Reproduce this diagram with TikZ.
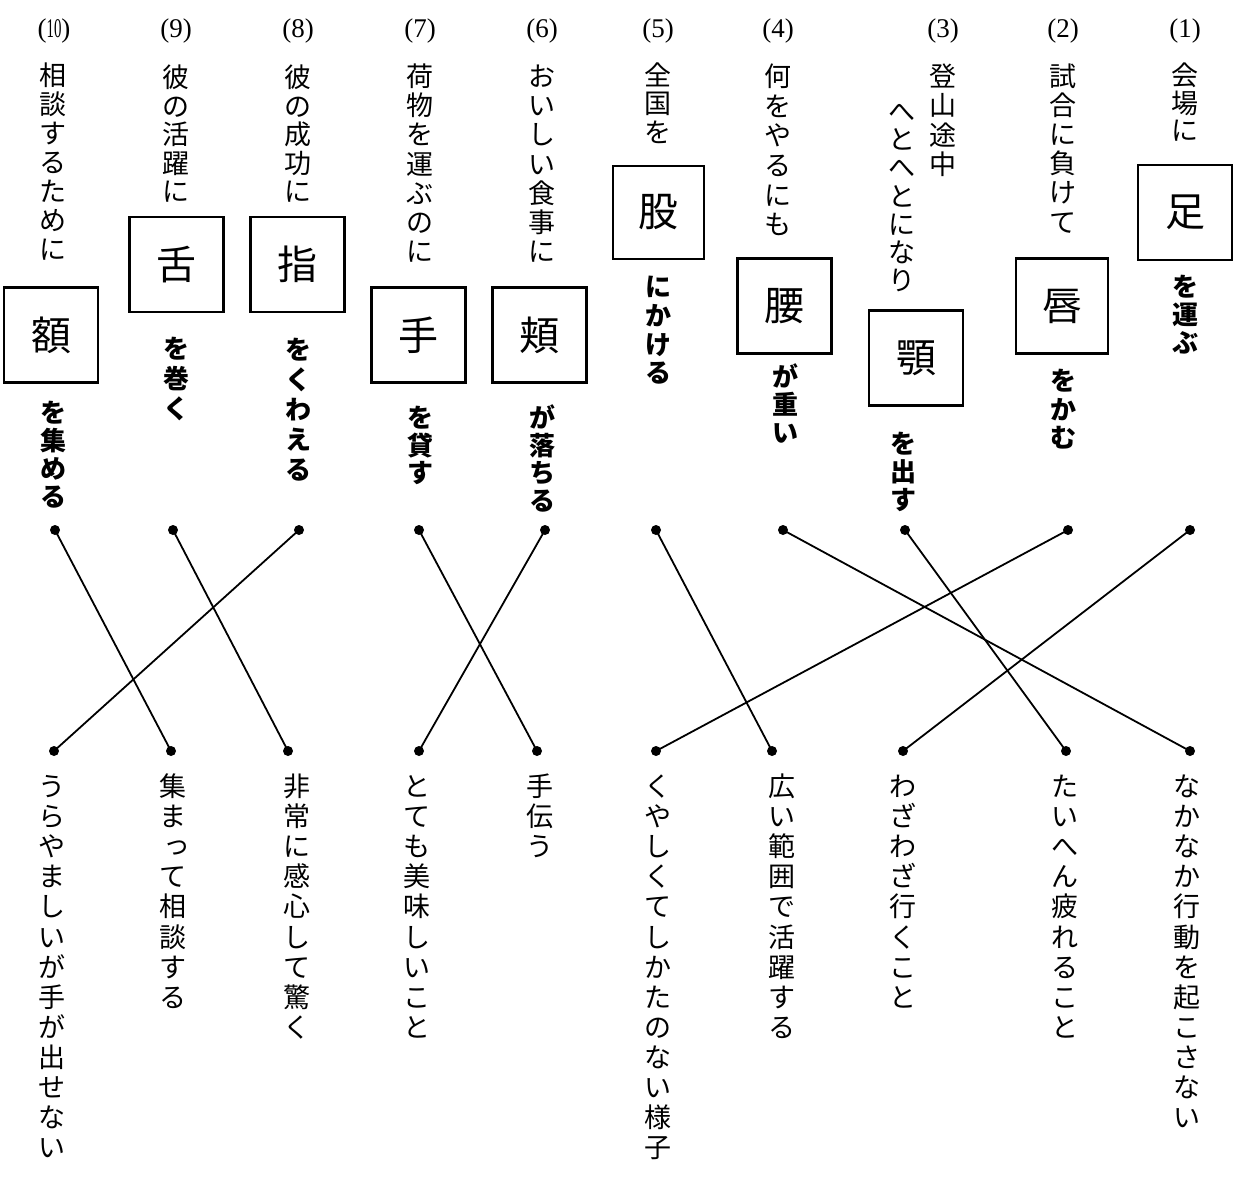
\documentclass[tikz,border=0pt]{standalone}
\usepackage{fontspec}
\usepackage{graphicx}
\setmainfont{Liberation Serif}
\newfontfamily\jp{Noto Sans CJK JP}
\newlength\vtp
\def\vtx#1{\ifx\relax#1\else\hbox to 1.1em{\hss\vbox to \vtp{\vss\hbox{\rule[-0.12em]{0pt}{1em}#1}\vss}\hss}\expandafter\vtx\fi}
\newcommand\vt[2]{\setlength\vtp{#1pt}\vbox{\offinterlineskip\vtx#2\relax}}
\newcommand\smtsu{\hbox to 1em{\kern0.14em\raise0.1em\hbox{っ}\hss}}
\tikzset{
  vtxt/.style={inner sep=0, anchor=north, font=\jp\fontsize{27}{27}\selectfont},
  vbold/.style={inner sep=0, anchor=north, font=\jp\bfseries\fontsize{26}{26}\selectfont},
  kbox/.style={draw, line width=2.3, inner sep=0, font=\jp\fontsize{40}{40}\selectfont, minimum width=94, minimum height=95},
  num/.style={inner sep=0, font=\fontsize{27}{27}\selectfont},
  dot/.style={circle, fill, inner sep=0, minimum size=10},
  conn/.style={line width=1.8}
}
\begin{document}
\begin{tikzpicture}[x=1pt,y=-1pt]
\useasboundingbox[fill=white] (0,0) rectangle (1239,1176);
% numbers
\node[num] (n10) at (54,31) {(\scalebox{0.55}[1]{10})};
\node[num] (n9) at (176,31) {(9)};
\node[num] (n8) at (298,31) {(8)};
\node[num] (n7) at (420,31) {(7)};
\node[num] (n6) at (542,31) {(6)};
\node[num] (n5) at (658,31) {(5)};
\node[num] (n4) at (778,31) {(4)};
\node[num] (n3) at (943,31) {(3)};
\node[num] (n2) at (1063,31) {(2)};
\node[num] (n1) at (1185,31) {(1)};
% upper texts
\node[vtxt] (a10) at (53,61) {\vt{29}{相談するために}};
\node[vtxt] (a9) at (176,63) {\vt{28.5}{彼の活躍に}};
\node[vtxt] (a8) at (298,63) {\vt{28.5}{彼の成功に}};
\node[vtxt] (a7) at (420,61) {\vt{29.3}{荷物を運ぶのに}};
\node[vtxt] (a6) at (542,61) {\vt{29.3}{おいしい食事に}};
\node[vtxt] (a5) at (658,61) {\vt{28.3}{全国を}};
\node[vtxt] (a4) at (778,61) {\vt{29.7}{何をやるにも}};
\node[vtxt] (a3) at (943,61) {\vt{29.5}{登山途中}};
\node[vtxt] (a3b) at (902,97) {\vt{28.2}{へとへとになり}};
\node[vtxt] (a2) at (1063,61) {\vt{29.2}{試合に負けて}};
\node[vtxt] (a1) at (1185,61) {\vt{27.7}{会場に}};
% boxes
\node[kbox] (k10) at (51,335) {額};
\node[kbox] (k9) at (176.5,264.5) {舌};
\node[kbox] (k8) at (297.5,264.5) {指};
\node[kbox] (k7) at (418.5,335) {手};
\node[kbox] (k6) at (539.5,335) {頬};
\node[kbox, minimum width=91, minimum height=93] (k5) at (658.5,212.5) {股};
\node[kbox] (k4) at (784.5,306) {腰};
\node[kbox] (k3) at (916,358) {顎};
\node[kbox, minimum width=92] (k2) at (1062,306) {唇};
\node[kbox] (k1) at (1185,212.5) {足};
% bold texts
\node[vbold] (b10) at (53,398) {\vt{28}{を集める}};
\node[vbold] (b9) at (176,334) {\vt{29.7}{を巻く}};
\node[vbold] (b8) at (298,334) {\vt{30}{をくわえる}};
\node[vbold] (b7) at (420,404) {\vt{27.5}{を貸す}};
\node[vbold] (b6) at (542,404) {\vt{27.5}{が落ちる}};
\node[vbold] (b5) at (658,272) {\vt{28.8}{にかける}};
\node[vbold] (b4) at (785,362) {\vt{28.3}{が重い}};
\node[vbold] (b3) at (903,429) {\vt{28}{を出す}};
\node[vbold] (b2) at (1063,366) {\vt{28.7}{をかむ}};
\node[vbold] (b1) at (1185,272) {\vt{28}{を運ぶ}};
% top dots
\node[dot] (t10) at (55,530) {};
\node[dot] (t9) at (173,530) {};
\node[dot] (t8) at (299,530) {};
\node[dot] (t7) at (419,530) {};
\node[dot] (t6) at (545,530) {};
\node[dot] (t5) at (656,530) {};
\node[dot] (t4) at (783,530) {};
\node[dot] (t3) at (905,530) {};
\node[dot] (t2) at (1068,530) {};
\node[dot] (t1) at (1190,530) {};
% bottom dots
\node[dot] (d1) at (54,751) {};
\node[dot] (d2) at (171,751) {};
\node[dot] (d3) at (288,751) {};
\node[dot] (d4) at (419,751) {};
\node[dot] (d5) at (537,751) {};
\node[dot] (d6) at (656,751) {};
\node[dot] (d7) at (772,751) {};
\node[dot] (d8) at (903,751) {};
\node[dot] (d9) at (1066,751) {};
\node[dot] (d10) at (1190,751) {};
% connectors
\draw[conn] (t10.center) -- (d2.center);
\draw[conn] (t9.center) -- (d3.center);
\draw[conn] (t8.center) -- (d1.center);
\draw[conn] (t7.center) -- (d5.center);
\draw[conn] (t6.center) -- (d4.center);
\draw[conn] (t5.center) -- (d7.center);
\draw[conn] (t4.center) -- (d10.center);
\draw[conn] (t3.center) -- (d9.center);
\draw[conn] (t2.center) -- (d6.center);
\draw[conn] (t1.center) -- (d8.center);
% lower texts
\node[vtxt] (m1) at (52,771) {\vt{30.1}{うらやましいが手が出せない}};
\node[vtxt] (m2) at (173,771) {\vt{30.1}{集ま{\smtsu}て相談する}};
\node[vtxt] (m3) at (297,771) {\vt{30.1}{非常に感心して驚く}};
\node[vtxt] (m4) at (417,771) {\vt{30.1}{とても美味しいこと}};
\node[vtxt] (m5) at (540,771) {\vt{30.1}{手伝う}};
\node[vtxt] (m6) at (658,771) {\vt{30.1}{くやしくてしかたのない様子}};
\node[vtxt] (m7) at (782,771) {\vt{30.1}{広い範囲で活躍する}};
\node[vtxt] (m8) at (903,771) {\vt{30.1}{わざわざ行くこと}};
\node[vtxt] (m9) at (1065,771) {\vt{30.1}{たいへん疲れること}};
\node[vtxt] (m10) at (1187,771) {\vt{30.1}{なかなか行動を起こさない}};
\end{tikzpicture}
\end{document}
